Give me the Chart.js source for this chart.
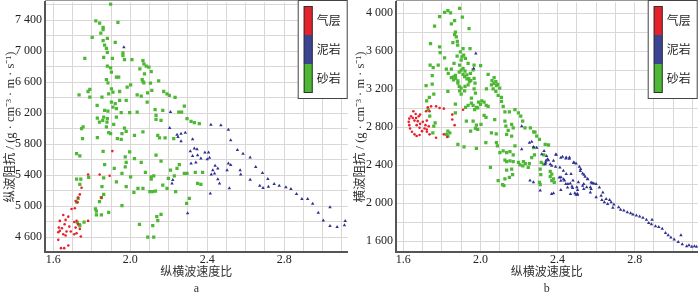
<!DOCTYPE html>
<html>
<head>
<meta charset="utf-8">
<script src="https://cdn.jsdelivr.net/npm/chart.js@4.4.1/dist/chart.umd.min.js"></script>
<style>
  html, body { margin: 0; padding: 0; background: #fff; }
  #wrap { display: flex; width: 700px; height: 293px; }
  canvas { display: block; }
</style>
</head>
<body>
<div id="wrap">
  <canvas id="chart-a" width="350" height="293"></canvas>
  <canvas id="chart-b" width="350" height="293"></canvas>
</div>
<script>
// --- data: [纵横波速度比, 阻抗] ---
// chart a: 纵波阻抗
const aSand = [
  [1.898,7606],[1.821,7391],[1.841,7361],[1.936,7370],[1.859,7306],[1.859,7276],[1.847,7233],[1.802,7177],[1.881,7164],[1.859,7134],
  [1.922,7113],[1.867,7079],[1.876,7036],[1.962,6976],[1.764,6907],[1.862,6920],[1.907,6907],[1.881,6985],[1.962,6942],[1.970,6890],
  [2.009,6890],[2.066,6877],[2.071,6835],[2.083,6805],[1.881,6805],[1.898,6783],[2.097,6792],[2.050,6770],[1.902,6728],[2.109,6736],
  [2.074,6706],[1.928,6663],[1.940,6663],[1.876,6633],[2.062,6633],[2.066,6608],[2.071,6591],[2.105,6586],[2.148,6616],[2.002,6565],
  [1.884,6591],[1.984,6535],[1.902,6513],[1.790,6505],[1.781,6479],[1.945,6479],[1.910,6470],[2.112,6492],[2.090,6462],[1.734,6436],
  [2.036,6436],[2.057,6419],[1.888,6449],[1.790,6406],[1.853,6406],[1.945,6364],[1.979,6364],[1.902,6342],[2.174,6479],[2.191,6449],
  [2.203,6428],[2.233,6402],[2.088,6342],[1.922,6321],[2.281,6291],[1.828,6299],[1.910,6278],[1.928,6257],[1.867,6235],[1.884,6227],
  [2.129,6244],[2.169,6235],[2.036,6214],[1.953,6205],[1.997,6205],[2.252,6214],[2.267,6214],[2.134,6171],[1.829,6137],[1.862,6149],
  [1.928,6149],[1.857,6107],[1.840,6085],[1.881,6128],[1.879,6085],[1.914,6055],[2.160,6107],[2.295,6128],[2.134,6119],[2.316,6094],
  [2.333,6077],[2.359,6064],[1.755,6021],[1.747,6000],[1.876,6021],[1.970,6008],[1.979,5965],[1.888,5948],[1.898,5935],[2.066,5957],
  [1.957,5935],[1.953,5862],[1.933,5871],[2.022,5914],[2.143,5914],[2.152,5880],[2.181,5880],[2.226,5871],[1.752,5871],[1.829,5884],
  [1.721,5678],[1.738,5648],[1.859,5708],[1.997,5700],[1.974,5636],[2.022,5614],[2.134,5657],[2.160,5580],[1.867,5537],[1.979,5563],
  [2.057,5563],[1.917,5486],[1.974,5507],[2.255,5537],[2.243,5486],[1.957,5421],[2.002,5378],[2.079,5434],[2.109,5378],[2.122,5391],
  [2.209,5464],[2.229,5391],[2.281,5421],[2.295,5421],[2.338,5434],[2.376,5434],[1.721,5348],[1.743,5348],[1.862,5366],[1.928,5314],
  [2.109,5348],[2.198,5357],[2.350,5293],[2.367,5280],[1.738,5280],[1.853,5250],[1.979,5250],[2.040,5229],[2.066,5229],[2.169,5271],
  [2.191,5229],[2.019,5177],[2.102,5186],[2.117,5186],[2.131,5194],[2.236,5186],[1.862,5151],[1.729,5100],[1.850,5109],[2.307,5100],
  [1.840,5057],[2.293,5036],[1.819,4963],[1.824,4937],[1.957,5006],[1.888,4920],[1.850,4886],[1.824,4886],[2.160,4894],[2.138,4864],
  [2.143,4813],[1.760,4792],[1.738,4749],[2.048,4766],[2.117,4749],[2.091,4600],[2.122,4600],[1.722,5050],[1.725,4790],[1.735,4760],
  [1.784,5370]
];
const aMud = [
  [1.967,7049],[2.209,6214],[2.205,6008],[2.243,5922],[2.248,5892],[2.264,5935],[2.286,5948],[2.264,5837],[2.324,5862],[2.419,6051],
  [2.471,6042],[2.510,5986],[2.522,5850],[2.557,5725],[2.312,5708],[2.333,5743],[2.347,5734],[2.324,5648],[2.350,5657],[2.388,5691],
  [2.407,5691],[2.367,5614],[2.412,5623],[2.400,5606],[2.316,5550],[2.341,5563],[2.441,5520],[2.455,5486],[2.429,5464],[2.421,5408],
  [2.438,5421],[2.510,5550],[2.522,5529],[2.503,5464],[2.571,5464],[2.574,5408],[2.455,5348],[2.464,5293],[2.221,5336],[2.217,5293],
  [2.515,5229],[2.416,5164],[2.298,4907],[2.586,5677],[2.623,5626],[2.652,5506],[2.687,5426],[2.623,5340],[2.673,5264],[2.690,5234],
  [2.715,5349],[2.718,5251],[2.748,5285],[2.774,5264],[2.809,5242],[2.835,5221],[2.864,5157],[2.892,5093],[2.922,5093],[2.948,5029],
  [2.977,4914],[3.003,4816],[3.038,4987],[3.038,4744],[3.075,4731],[3.113,4752],[3.117,4808]
];
const aGas = [
  [1.907,5710],[1.781,5408],[1.841,5408],[1.893,5391],[1.747,5237],[1.738,5151],[1.729,5109],[1.716,5066],[1.726,5049],[1.850,5109],
  [1.712,4972],[1.695,4963],[1.652,4886],[1.678,4864],[1.664,4822],[1.634,4809],[1.709,4796],[1.721,4809],[1.781,4809],[1.659,4766],
  [1.729,4766],[1.629,4723],[1.645,4715],[1.683,4736],[1.716,4723],[1.634,4681],[1.669,4672],[1.691,4672],[1.738,4706],[1.626,4663],
  [1.652,4638],[1.709,4638],[1.721,4650],[1.664,4620],[1.743,4608],[1.626,4565],[1.678,4492],[1.640,4458],[1.657,4458]
];

// chart b: 横波阻抗
const bSand = [
  [1.892,4052],[1.831,4028],[1.814,4010],[1.845,4003],[1.788,3965],[1.906,3958],[1.866,3923],[1.849,3889],[1.762,3864],[1.941,3837],
  [1.870,3802],[1.866,3774],[1.875,3750],[1.880,3704],[1.857,3690],[1.741,3680],[1.788,3645],[1.882,3663],[1.910,3628],[1.946,3628],
  [1.896,3593],[1.791,3586],[1.913,3558],[1.904,3541],[1.879,3548],[1.922,3524],[1.814,3530],[1.900,3506],[1.863,3471],[1.781,3454],
  [1.967,3454],[2.001,3447],[1.892,3454],[1.936,3471],[1.739,3454],[1.755,3426],[1.823,3412],[1.849,3412],[1.910,3419],[1.962,3402],
  [1.948,3367],[1.833,3367],[1.910,3357],[1.918,3332],[2.040,3357],[1.750,3343],[1.849,3322],[1.861,3297],[1.871,3315],[1.883,3287],
  [1.930,3308],[1.943,3280],[1.967,3315],[1.883,3263],[1.936,3245],[1.972,3263],[2.071,3322],[2.080,3280],[2.057,3245],[2.083,3238],
  [2.100,3210],[2.066,3203],[2.031,3203],[1.750,3252],[1.718,3238],[1.831,3176],[1.892,3183],[1.918,3183],[1.900,3148],[1.967,3203],
  [1.974,3158],[1.953,3106],[2.080,3176],[2.092,3134],[2.109,3113],[2.109,3071],[1.758,3148],[1.735,3113],[1.721,3078],[1.870,3043],
  [1.936,3030],[1.953,3054],[1.962,3030],[1.979,3009],[1.990,3064],[2.007,3078],[2.019,3064],[1.923,3009],[1.970,2984],[1.986,3002],
  [2.118,3019],[2.127,2960],[2.150,2960],[2.179,2984],[2.197,2950],[2.209,2915],[2.019,2925],[2.029,2904],[1.870,2950],[1.765,2845],
  [1.737,2915],[1.729,2984],[1.758,2810],[1.753,2741],[1.927,2863],[1.962,2863],[2.074,2880],[2.127,2863],[2.132,2810],[2.162,2828],
  [2.170,2793],[2.219,2863],[2.231,2793],[1.979,2821],[1.974,2786],[1.986,2776],[2.003,2828],[1.949,2758],[2.144,2765],[2.259,2793],
  [2.276,2751],[2.283,2748],[2.057,2741],[2.082,2730],[2.136,2724],[2.162,2706],[1.831,2758],[1.823,2724],[1.841,2741],[1.831,2706],
  [2.292,2706],[2.306,2671],[2.336,2619],[2.353,2612],[1.883,2619],[1.915,2591],[1.979,2577],[2.028,2637],[2.083,2637],[2.088,2602],
  [2.118,2550],[2.136,2532],[2.153,2543],[2.101,2532],[2.179,2602],[2.170,2508],[2.276,2584],[2.280,2508],[2.329,2508],[2.127,2452],
  [2.136,2438],[2.153,2445],[2.170,2438],[2.197,2428],[2.205,2403],[2.220,2393],[2.223,2438],[2.254,2417],[2.248,2376],[2.266,2480],
  [2.052,2376],[2.136,2348],[2.162,2358],[2.167,2299],[2.150,2271],[2.127,2254],[2.092,2237],[2.115,2195],[2.122,2184],[2.310,2358],
  [2.313,2299],[2.362,2334],[2.370,2306],[2.362,2278],[2.379,2254],[2.383,2219],[2.370,2237],[2.306,2219],[2.310,2195],[2.315,2428],
  [2.327,2410],[2.233,2417],[1.860,3330],[1.870,3345],[1.890,3380],[1.900,3400],[1.920,3390],[1.930,3350],[1.940,3310],[1.950,3290],
  [1.890,3230],[1.900,3210],[1.920,3230],[2.060,3290],[2.070,3260],[2.090,3250],[2.000,3040],[2.030,3030],[2.040,3020]
];
const bMud = [
  [1.976,3576],[1.965,3419],[2.214,2810],[2.254,2637],[2.266,2647],[2.276,2591],[2.292,2584],[2.214,2567],[2.318,2515],[2.343,2497],
  [2.353,2452],[2.362,2410],[2.379,2445],[2.390,2383],[2.393,2508],[2.426,2487],[2.445,2480],[2.462,2480],[2.485,2428],[2.520,2358],
  [2.537,2299],[2.555,2254],[2.580,2209],[2.418,2271],[2.436,2237],[2.454,2202],[2.475,2174],[2.500,2167],[2.503,2097],[2.467,2097],
  [2.379,2104],[2.310,2132],[2.257,2237],[2.275,2219],[2.340,2445],[2.336,2410],[2.370,2393],[2.412,2376],[2.430,2341],[2.445,2306],
  [2.470,2306],[2.480,2237],[2.508,2219],[2.536,2202],[2.551,2167],[2.570,2167],[2.330,2548],[2.348,2461],[2.339,2426],[2.391,2513],
  [2.417,2478],[2.443,2471],[2.461,2468],[2.483,2426],[2.496,2416],[2.513,2384],[2.518,2339],[2.530,2311],[2.543,2277],[2.557,2252],
  [2.574,2217],[2.588,2207],[2.600,2200],[2.617,2165],[2.635,2113],[2.626,2078],[2.652,2044],[2.670,2033],[2.678,2009],[2.692,1984],
  [2.687,1950],[2.717,1957],[2.727,1929],[2.744,1922],[2.762,1904],[2.779,1894],[2.791,1880],[2.809,1870],[2.826,1859],[2.843,1845],
  [2.861,1824],[2.873,1790],[2.890,1824],[2.887,1776],[2.908,1755],[2.925,1748],[2.943,1731],[2.960,1685],[2.974,1661],[2.988,1637],
  [3.005,1616],[3.026,1591],[3.040,1661],[3.047,1567],[3.070,1546],[3.082,1557],[3.096,1539],[3.110,1546],[3.122,1539],[2.409,2270],
  [2.417,2235],[2.431,2252],[2.443,2200],[2.452,2165],[2.466,2207],[2.478,2158],[2.490,2103],[2.504,2137],[2.530,2183],[2.536,2148],
  [2.570,2113],[2.574,2148],[2.600,2061],[2.630,2033],[2.643,2009],[2.660,1991],[2.369,2096],[2.496,2089],[2.504,2089],[2.417,2137]
];
const bGas = [
  [1.727,3009],[1.744,3019],[1.770,3019],[1.788,3002],[1.810,2995],[1.718,2967],[1.736,2967],[1.652,2967],[1.664,2939],[1.640,2915],
  [1.631,2890],[1.649,2897],[1.666,2897],[1.680,2915],[1.687,2932],[1.658,2869],[1.675,2863],[1.628,2856],[1.701,2856],[1.722,2869],
  [1.631,2821],[1.669,2821],[1.687,2835],[1.715,2821],[1.732,2810],[1.635,2786],[1.684,2793],[1.710,2786],[1.722,2776],[1.645,2751],
  [1.697,2758],[1.722,2751],[1.658,2724],[1.669,2706],[1.684,2717],[1.736,2724],[1.770,2689],[1.854,2932],[1.854,2880],[1.866,2821],
  [1.910,2984],[1.810,2724],[1.828,2696]
];

// tick labels
const xTickLabels = [1.6, 2.0, 2.4, 2.8];
const yTickLabelsA = [4600, 5000, 5400, 5800, 6200, 6600, 7000, 7400];
const yTickLabelsB = [1600, 2000, 2400, 2800, 3200, 3600, 4000];
const legendLabels = ['气层', '泥岩', '砂岩'];
const xTitle = '纵横波速度比';

const GAS_COLOR = '#e8202a';
const MUD_COLOR = '#2e3192';
const SAND_COLOR = '#4db833';
const legendColors = [GAS_COLOR, '#3b4394', SAND_COLOR];
const TEXT = '#222';
const GRID = '#dcd7d7';
const AXIS = '#555';
const FONT = "'Liberation Serif', 'Noto Sans CJK SC', serif";

function range(a, b, step) {
  const out = [];
  for (let v = a; v <= b + 1e-9; v += step) out.push(Math.round(v * 1000) / 1000);
  return out;
}
const toXY = pts => pts.map(p => ({ x: p[0], y: p[1] }));
const spaced = v => String(v).replace(/\B(?=(\d{3})+(?!\d))/g, ' ');

// draws the colour bar legend and the top frame line
const legendBar = {
  id: 'legendBar',
  afterDraw(chart) {
    const ctx = chart.ctx;
    const area = chart.chartArea;
    ctx.save();
    ctx.strokeStyle = '#999';
    ctx.lineWidth = 1;
    ctx.beginPath();
    ctx.moveTo(area.left, 0.5);
    ctx.lineTo(area.right, 0.5);
    ctx.stroke();

    const x0 = area.right - 50;
    ctx.fillStyle = '#fff';
    ctx.fillRect(x0, 0, 50, 99);
    ctx.strokeStyle = '#444';
    ctx.strokeRect(x0 + 0.5, 0.5, 49, 98);
    const bx = x0 + 6, bw = 9, top = 6, seg = 29;
    legendColors.forEach((c, i) => {
      ctx.fillStyle = c;
      ctx.fillRect(bx, top + i * seg, bw, seg);
    });
    ctx.strokeStyle = '#333';
    ctx.strokeRect(bx + 0.5, top + 0.5, bw - 1, 3 * seg - 1);
    ctx.fillStyle = TEXT;
    ctx.font = "12px 'Noto Sans CJK SC', serif";
    ctx.textBaseline = 'middle';
    legendLabels.forEach((t, i) => ctx.fillText(t, x0 + 19, top + seg * i + seg / 2));
    ctx.restore();
  }
};

function makeChart(canvas, cfg) {
  return new Chart(canvas, {
    type: 'scatter',
    data: {
      datasets: [
        { label: '气层', data: toXY(cfg.gas), pointStyle: 'circle', pointRadius: 1.3, backgroundColor: GAS_COLOR },
        { label: '泥岩', data: toXY(cfg.mud), pointStyle: 'triangle', pointRadius: 2, backgroundColor: MUD_COLOR },
        { label: '砂岩', data: toXY(cfg.sand), pointStyle: 'rect', pointRadius: 2.3, backgroundColor: SAND_COLOR }
      ]
    },
    options: {
      responsive: false,
      animation: false,
      devicePixelRatio: 1,
      events: [],
      layout: { padding: { left: 0, right: cfg.padRight, top: 0, bottom: 0 } },
      elements: { point: { borderWidth: 0, hoverRadius: 0 } },
      plugins: { legend: { display: false }, tooltip: { enabled: false } },
      scales: {
        x: {
          type: 'linear',
          min: cfg.xMin,
          max: cfg.xMax,
          afterBuildTicks: s => { s.ticks = range(1.6, 3.1, 0.1).map(v => ({ value: v })); },
          afterFit: s => { s.height = 41; s.paddingLeft = 0; s.paddingRight = 0; },
          ticks: {
            autoSkip: false, maxRotation: 0, padding: 1, color: TEXT,
            font: { family: FONT, size: 12 },
            callback: v => {
              const t = xTickLabels.find(l => Math.abs(l - v) < 1e-6);
              return t === undefined ? '' : t.toFixed(1);
            }
          },
          grid: { color: GRID, drawTicks: false },
          border: { color: AXIS, width: 2 },
          title: {
            display: true, text: [xTitle, cfg.tag], color: '#333',
            font: { family: FONT, size: 12, lineHeight: '16px' },
            padding: { top: 0, bottom: -4 }
          }
        },
        y: {
          type: 'linear',
          min: cfg.yMin,
          max: cfg.yMax,
          afterBuildTicks: s => { s.ticks = cfg.yGrid.map(v => ({ value: v })); },
          afterFit: s => { s.width = cfg.yWidth; s.paddingTop = 0; s.paddingBottom = 0; },
          ticks: {
            autoSkip: false, padding: 3, color: TEXT,
            font: { family: FONT, size: 12 },
            callback: v => cfg.yLabels.includes(v) ? spaced(v) : ''
          },
          grid: { color: GRID, drawTicks: false },
          border: { color: AXIS, width: 2 },
          title: {
            display: true, text: cfg.yTitle, color: '#333',
            font: { family: FONT, size: 12.5 },
            padding: { top: 3, bottom: 0 }
          }
        }
      }
    },
    plugins: [legendBar]
  });
}

makeChart(document.getElementById('chart-a'), {
  sand: aSand, mud: aMud, gas: aGas, tag: 'a',
  xMin: 1.557, xMax: 3.13, yMin: 4408, yMax: 7630,
  yGrid: range(4600, 7600, 200), yLabels: yTickLabelsA,
  yWidth: 45, padRight: 1,
  yTitle: '纵波阻抗 / (g · cm⁻³ · m · s⁻¹)'
});
makeChart(document.getElementById('chart-b'), {
  sand: bSand, mud: bMud, gas: bGas, tag: 'b',
  xMin: 1.562, xMax: 3.127, yMin: 1485, yMax: 4115,
  yGrid: range(1600, 4000, 200), yLabels: yTickLabelsB,
  yWidth: 46, padRight: 2,
  yTitle: '横波阻抗 / (g · cm⁻³ · m · s⁻¹)'
});
</script>
</body>
</html>
